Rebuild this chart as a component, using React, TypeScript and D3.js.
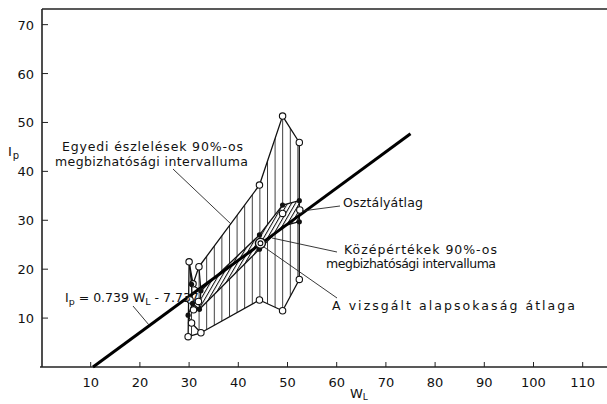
import React from "react";
import * as d3 from "d3";

// ---- data (W_L, I_p) ----
const xTicks = [10, 20, 30, 40, 50, 60, 70, 80, 90, 100, 110];
const yTicks = [10, 20, 30, 40, 50, 60, 70];
const regCoef = [0.739, -7.737];
const regRange = [10.47, 75];

const outerUpper: [number, number][] = [
  [30.0, 21.5], [30.8, 17.0], [32.0, 20.5], [44.3, 37.2], [49.0, 51.3], [52.4, 45.9],
];
const outerLower: [number, number][] = [
  [52.4, 17.9], [49.0, 11.5], [44.3, 13.7], [32.4, 7.0], [29.8, 6.2],
];
const bandUpper: [number, number][] = [
  [32.4, 15.6], [44.3, 27.0], [49.0, 33.1], [52.4, 34.0],
];
const bandLower: [number, number][] = [
  [52.4, 29.7], [49.0, 28.8], [44.3, 24.1], [32.1, 11.8],
];
const extraSegments: [number, number][][] = [
  [[30.5, 9.0], [32.4, 7.0]],
  [[30.5, 9.0], [29.8, 10.6]],
  [[30.0, 21.5], [30.5, 16.9]],
  [[30.5, 16.9], [32.4, 15.6]],
  [[30.7, 13.0], [32.1, 11.8]],
  [[30.5, 16.9], [30.7, 13.0]],
  [[30.7, 13.0], [29.8, 10.6]],
  [[32.0, 20.5], [32.4, 15.6]],
];
const filledDots: [number, number][] = [
  [49.0, 33.1], [52.4, 34.0], [52.4, 29.7], [44.3, 27.0], [44.3, 24.1],
  [30.5, 16.9], [32.4, 15.6], [30.7, 13.0], [32.1, 11.8], [29.8, 10.6],
];
const openDots: [number, number][] = [
  ...outerUpper, ...outerLower, [30.5, 9.0],
  [30.2, 13.7], [30.9, 11.7], [31.9, 13.4], [49.0, 31.4], [52.5, 32.1],
];
const populationMean: [number, number] = [44.5, 25.3];

const FONT = "'DejaVu Sans', sans-serif";

export default function App() {
  const W = 607, H = 404;
  const x = d3.scaleLinear().domain([0, 115]).range([41.5, 607.3]);
  const y = d3.scaleLinear().domain([0, 73.2]).range([367, 9]);
  const line = d3.line<[number, number]>().x((d) => x(d[0])).y((d) => y(d[1]));
  const outerPath = line([...outerUpper, ...outerLower]) + "Z";
  const bandPath = line([...bandUpper, ...bandLower]) + "Z";
  const reg: [number, number][] = regRange.map((v) => [v, regCoef[0] * v + regCoef[1]] as [number, number]);

  const lbl = { fontFamily: FONT, fontSize: 12.5, fill: "#111" } as const;

  return (
    <svg width={W} height={H} style={{ position: "absolute", left: 0, top: 0, background: "#fff" }}>
      <defs>
        <pattern id="vhatch" patternUnits="userSpaceOnUse" width={7.6} height={10} x={1}>
          <line x1={0.5} y1={0} x2={0.5} y2={10} stroke="#222" strokeWidth={0.9} />
        </pattern>
        <pattern id="dhatch" patternUnits="userSpaceOnUse" width={3.4} height={10} patternTransform="rotate(30)">
          <line x1={0.5} y1={0} x2={0.5} y2={10} stroke="#111" strokeWidth={1} />
        </pattern>
      </defs>

      {/* frame */}
      <line x1={42} y1={9} x2={607} y2={9} stroke="#222" strokeWidth={1.6} />
      <line x1={42} y1={9} x2={42} y2={367} stroke="#222" strokeWidth={1.6} />
      <line x1={40} y1={367} x2={607} y2={367} stroke="#222" strokeWidth={1.6} />

      {yTicks.map((t) => (
        <g key={"y" + t}>
          <line x1={42} x2={48} y1={y(t)} y2={y(t)} stroke="#222" strokeWidth={1} />
          <text x={34} y={y(t) + 5} textAnchor="end" fontFamily={FONT} fontSize={13} fill="#111">{t}</text>
        </g>
      ))}
      {xTicks.map((t) => (
        <g key={"x" + t}>
          <line x1={x(t)} x2={x(t)} y1={367} y2={362} stroke="#222" strokeWidth={1} />
          <text x={x(t)} y={387} textAnchor="middle" fontFamily={FONT} fontSize={13} fill="#111">{t}</text>
        </g>
      ))}
      <text x={350} y={398} fontFamily={FONT} fontSize={13} fill="#111">W<tspan fontSize={9} dy={2}>L</tspan></text>
      <text x={8} y={156} fontFamily={FONT} fontSize={13} fill="#111">I<tspan fontSize={10} dy={3} dx={1}>p</tspan></text>

      {/* outer interval */}
      <path d={outerPath} fill="url(#vhatch)" stroke="#111" strokeWidth={1.3} strokeLinejoin="round" />
      {/* band of means */}
      <path d={bandPath} fill="#fff" stroke="none" />
      <path d={bandPath} fill="url(#dhatch)" stroke="#111" strokeWidth={1.3} strokeLinejoin="round" />
      {extraSegments.map((s, i) => (
        <path key={"s" + i} d={line(s) || ""} fill="none" stroke="#111" strokeWidth={1.2} />
      ))}

      {/* regression line */}
      <path d={line(reg) || ""} fill="none" stroke="#000" strokeWidth={3} />

      {openDots.map((d, i) => (
        <circle key={"o" + i} cx={x(d[0])} cy={y(d[1])} r={3.2} fill="#fff" stroke="#111" strokeWidth={1.1} />
      ))}
      {filledDots.map((d, i) => (
        <circle key={"f" + i} cx={x(d[0])} cy={y(d[1])} r={2.6} fill="#111" />
      ))}
      <circle cx={x(populationMean[0])} cy={y(populationMean[1])} r={5} fill="#fff" stroke="#111" strokeWidth={1.4} />
      <circle cx={x(populationMean[0])} cy={y(populationMean[1])} r={2.4} fill="none" stroke="#111" strokeWidth={1.1} />

      {/* annotations */}
      <g stroke="#222" strokeWidth={0.9}>
        <line x1={173} y1={169} x2={231} y2={224} />
        <line x1={302} y1={211} x2={340} y2={206} />
        <line x1={272} y1={238} x2={337} y2={252} />
        <line x1={264} y1={247} x2={337} y2={298} />
        <line x1={133} y1={306} x2={149} y2={325} />
      </g>
      <text {...lbl} x={62} y={151} textLength={181} lengthAdjust="spacing">Egyedi észlelések 90%-os</text>
      <text {...lbl} x={55} y={166} textLength={193} lengthAdjust="spacing">megbizhatósági intervalluma</text>
      <text {...lbl} x={343} y={207} textLength={80} lengthAdjust="spacing">Osztályátlag</text>
      <text {...lbl} x={344} y={254} textLength={153} lengthAdjust="spacing">Középértékek 90%-os</text>
      <text {...lbl} x={326} y={268} textLength={170} lengthAdjust="spacing">megbizhatósági intervalluma</text>
      <text {...lbl} x={332} y={310} textLength={243} lengthAdjust="spacing">A vizsgált alapsokaság átlaga</text>
      <text x={65} y={302} fontFamily={FONT} fontSize={12.5} fill="#111">
        I<tspan fontSize={9.5} dy={3}>p</tspan>
        <tspan dy={-3}> = 0.739  W</tspan>
        <tspan fontSize={9.5} dy={3}>L</tspan>
        <tspan dy={-3}> - 7.737</tspan>
      </text>
    </svg>
  );
}
